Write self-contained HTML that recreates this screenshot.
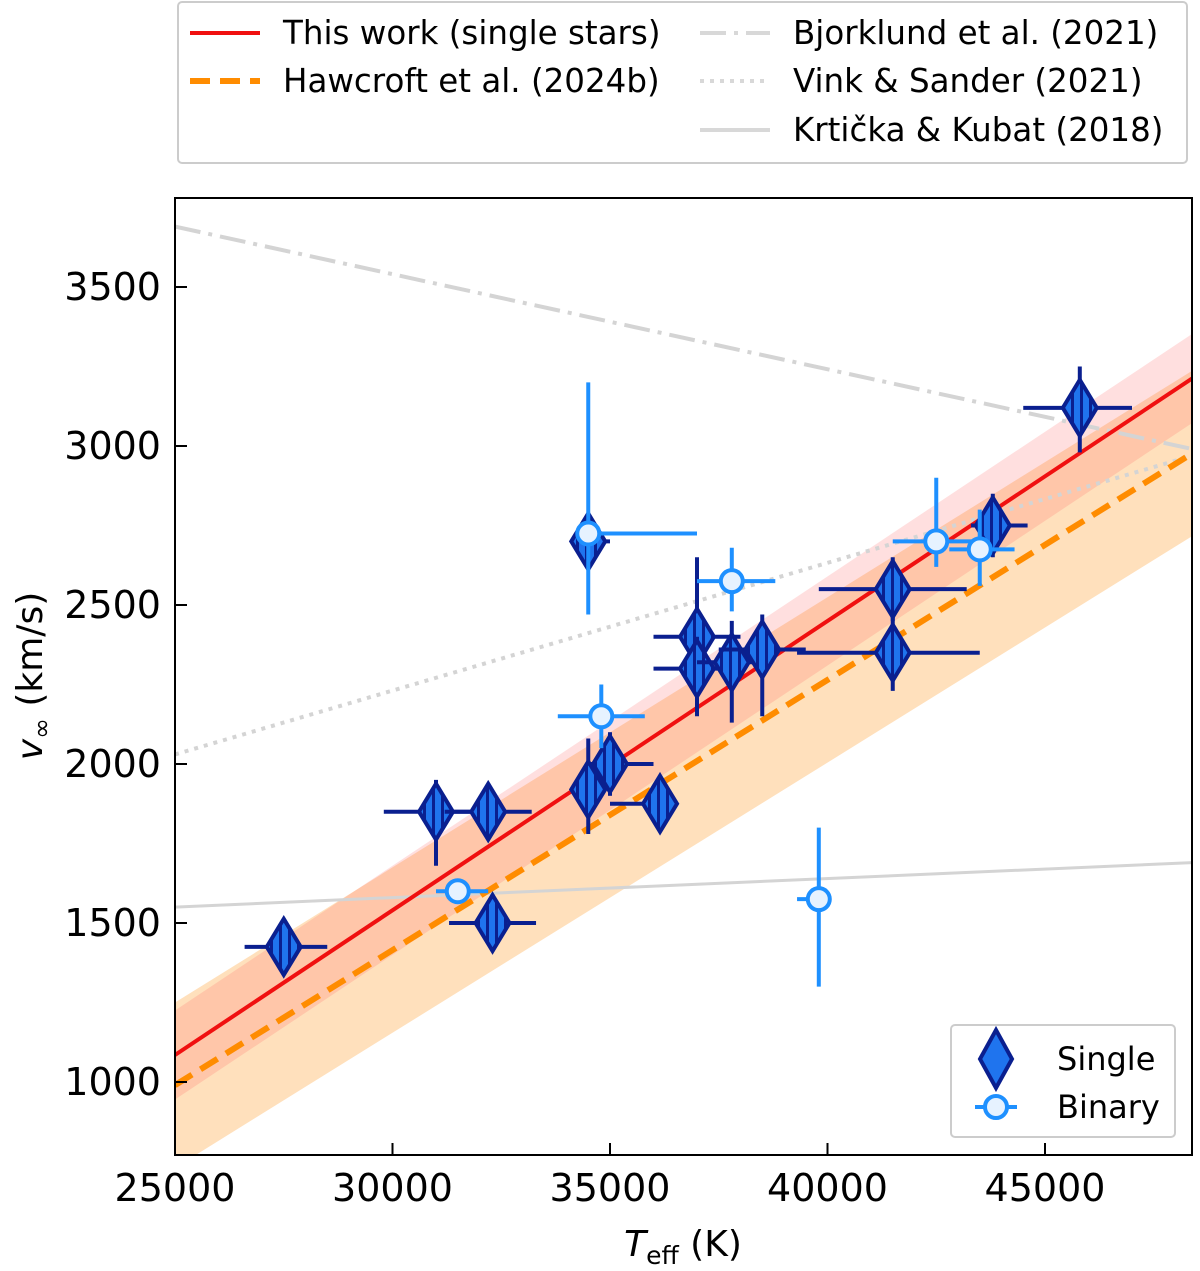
<!DOCTYPE html>
<html><head><meta charset="utf-8"><style>
body{margin:0;background:#fff;}
svg text{font-family:"DejaVu Sans","Liberation Sans",sans-serif;}
</style></head><body>
<svg id="chart" width="1200" height="1266" xmlns="http://www.w3.org/2000/svg">
<defs>
<pattern id="hatch" patternUnits="userSpaceOnUse" width="9" height="9">
<rect width="9" height="9" fill="#1f74ee"/><rect x="0" width="3" height="9" fill="#0a1f8f"/>
</pattern>
<clipPath id="clip"><rect x="175" y="198" width="1017" height="957"/></clipPath>
</defs>
<g id="plot" clip-path="url(#clip)"></g>
<rect x="175" y="198" width="1017" height="957" fill="none" stroke="#000" stroke-width="2"/>
<g id="axes"></g>
<text x="683" y="1256" font-size="36" text-anchor="middle"><tspan font-style="italic">T</tspan><tspan font-size="25" dy="8">eff</tspan><tspan dy="-8"> (K)</tspan></text>
<text transform="translate(42,676) rotate(-90)" font-size="36" text-anchor="middle"><tspan font-style="italic">v</tspan><tspan font-size="25" dy="8">∞</tspan><tspan dy="-8"> (km/s)</tspan></text>
<g>
<rect x="178" y="2" width="1009" height="161" fill="#fff" stroke="#ccc" stroke-width="2" rx="4"/>
<line x1="190" y1="33" x2="260" y2="33" stroke="#f01010" stroke-width="4"/>
<text x="283" y="44" font-size="32.5">This work (single stars)</text>
<line x1="190" y1="81" x2="260" y2="81" stroke="#ff8c00" stroke-width="6" stroke-dasharray="20,10"/>
<text x="283" y="92" font-size="32.5">Hawcroft et al. (2024b)</text>
<line x1="700" y1="33" x2="770" y2="33" stroke="#d8d8d8" stroke-width="4" stroke-dasharray="26,8,4,8"/>
<text x="793" y="44" font-size="32.5">Bjorklund et al. (2021)</text>
<line x1="700" y1="81" x2="770" y2="81" stroke="#d8d8d8" stroke-width="4" stroke-dasharray="4,6"/>
<text x="793" y="92" font-size="32.5">Vink &amp; Sander (2021)</text>
<line x1="700" y1="130" x2="770" y2="130" stroke="#d8d8d8" stroke-width="4"/>
<text x="793" y="141" font-size="32.5">Krtička &amp; Kubat (2018)</text>
</g>
<g>
<rect x="951" y="1025" width="224" height="112" fill="#fff" stroke="#ccc" stroke-width="2" rx="4"/>
<path d="M996,1030 L1012,1059 L996,1088 L980,1059Z" fill="#1f74ee" stroke="#0a1f8f" stroke-width="4"/>
<text x="1057" y="1070" font-size="32">Single</text>
<line x1="975" y1="1107" x2="1017" y2="1107" stroke="#1e90ff" stroke-width="4"/>
<circle cx="996" cy="1107" r="11" fill="#e6f2ff" stroke="#1e90ff" stroke-width="4"/>
<text x="1057" y="1118" font-size="32">Binary</text>
</g>
</svg>
<script>
const xTicks=[25000,30000,35000,40000,45000];
const yTicks=[1000,1500,2000,2500,3000,3500];
const fitX=[25000,48400];
const redFit=[1085,3214];
const redBand=140;
const orangeFit=[990,2978];
const orangeBand=260;
const bjork=[3690,2990];
const vink=[2030,2970];
const krt=[1550,1690];
const sT=[27500,31000,32200,32300,34500,35000,36150,34500,37000,37000,37800,38500,41500,41500,43800,45800];
const sV=[1425,1850,1850,1500,1920,2000,1875,2700,2400,2300,2320,2360,2350,2550,2750,3120];
const sTlo=[26600,29800,31200,31300,34300,34500,35000,34400,36000,36000,37000,37500,39300,39800,43300,44500];
const sThi=[28500,32000,33200,33300,34700,36000,36300,35000,38000,37800,38600,39500,43500,43200,44600,47000];
const sVlo=[1365,1680,1780,1410,1780,1900,1820,2660,2150,2200,2130,2150,2230,2450,2650,2980];
const sVhi=[1485,1950,1920,1590,2080,2100,1930,2740,2650,2400,2450,2470,2470,2650,2850,3250];
const bT=[34500,34800,37800,31500,39800,42500,43500];
const bV=[2725,2150,2575,1600,1575,2700,2675];
const bTlo=[34500,33800,37000,31000,39300,41500,42800];
const bThi=[37000,35800,38800,32200,40000,43500,44300];
const bVlo=[2470,2050,2480,1570,1300,2620,2560];
const bVhi=[3200,2250,2680,1630,1800,2900,2800];
const X=t=>175+(t-25000)/5000*217.5;
const Y=v=>1082-(v-1000)/500*159;
const NS='http://www.w3.org/2000/svg';
const plot=document.getElementById('plot'),axes=document.getElementById('axes');
function mk(p,tag,a){const e=document.createElementNS(NS,tag);for(const k in a)e.setAttribute(k,a[k]);p.appendChild(e);return e;}
function band(c,w,fill,op,name){const x0=X(fitX[0]),x1=X(fitX[1]);
const e=mk(plot,'polygon',{points:`${x0},${Y(c[0]+w)} ${x1},${Y(c[1]+w)} ${x1},${Y(c[1]-w)} ${x0},${Y(c[0]-w)}`,fill:fill,'fill-opacity':op});

}
band(orangeFit,orangeBand,'#ffa640',0.35,'hawcroft-band');
band(redFit,redBand,'#ff6060',0.2,'this-work-band');
function ln(c,st,w,da,name){const e=mk(plot,'line',{x1:X(fitX[0]),y1:Y(c[0]),x2:X(fitX[1]),y2:Y(c[1]),stroke:st,'stroke-width':w});if(da)e.setAttribute('stroke-dasharray',da);

}
ln(bjork,'#d4d4d4',4,'26,8,4,8','bjorklund-line');
ln(vink,'#d4d4d4',4,'4,6','vink-line');
ln(krt,'#d4d4d4',3,null,'krticka-line');
ln(redFit,'#f01010',4,null,'this-work-line');
ln(orangeFit,'#ff8c00',6,'20,10','hawcroft-line');
sT.forEach((t,i)=>{const g=mk(plot,'g',{});


mk(g,'line',{x1:X(sTlo[i]),x2:X(sThi[i]),y1:Y(sV[i]),y2:Y(sV[i]),stroke:'#0a1f8f','stroke-width':4});
mk(g,'line',{x1:X(t),x2:X(t),y1:Y(sVlo[i]),y2:Y(sVhi[i]),stroke:'#0a1f8f','stroke-width':4});
const x=X(t),y=Y(sV[i]);
mk(g,'path',{d:`M${x},${y-28} L${x+17},${y} L${x},${y+28} L${x-17},${y}Z`,fill:'url(#hatch)',stroke:'#0a1f8f','stroke-width':4});});
bT.forEach((t,i)=>{const g=mk(plot,'g',{});


mk(g,'line',{x1:X(bTlo[i]),x2:X(bThi[i]),y1:Y(bV[i]),y2:Y(bV[i]),stroke:'#1e90ff','stroke-width':4});
mk(g,'line',{x1:X(t),x2:X(t),y1:Y(bVlo[i]),y2:Y(bVhi[i]),stroke:'#1e90ff','stroke-width':4});
mk(g,'circle',{cx:X(t),cy:Y(bV[i]),r:11,fill:'#e6f2ff',stroke:'#1e90ff','stroke-width':4});});
xTicks.forEach(t=>{mk(axes,'line',{x1:X(t),x2:X(t),y1:1155,y2:1143,stroke:'#000','stroke-width':2});
const e=mk(axes,'text',{x:X(t),y:1201,'font-size':38,'text-anchor':'middle'});e.textContent=t;

});
yTicks.forEach(v=>{mk(axes,'line',{x1:175,x2:187,y1:Y(v),y2:Y(v),stroke:'#000','stroke-width':2});
const e=mk(axes,'text',{x:161,y:Y(v)+13,'font-size':38,'text-anchor':'end'});e.textContent=v;

});
</script>
</body></html>
